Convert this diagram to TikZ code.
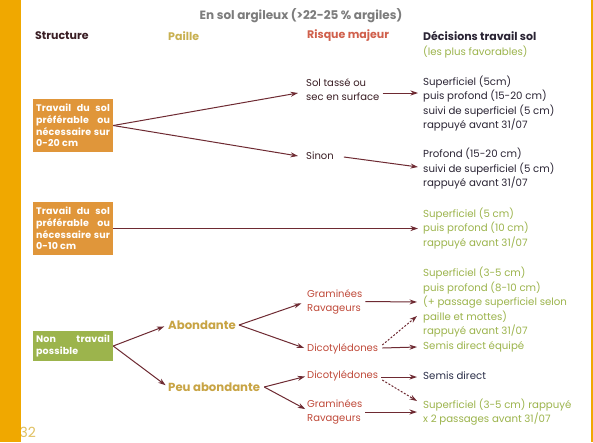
\documentclass[tikz,border=0pt]{standalone}
\usepackage{fontspec}
\setmainfont{Poppins}
\newfontfamily\boxface[LetterSpace=2]{Poppins}
\usetikzlibrary{arrows.meta}

\definecolor{barorange}{HTML}{F0A800}
\definecolor{boxorange}{HTML}{E0963A}
\definecolor{boxgreen}{HTML}{9CB44C}
\definecolor{arrowred}{HTML}{6E2A32}
\definecolor{titlegray}{HTML}{7C7C7C}
\definecolor{structdark}{HTML}{3A1E24}
\definecolor{paillegold}{HTML}{C8B050}
\definecolor{risquered}{HTML}{D0604C}
\definecolor{riskbrown}{HTML}{C04A3A}
\definecolor{decdark}{HTML}{2A2434}
\definecolor{favgreen}{HTML}{9CB44C}
\definecolor{abgold}{HTML}{C8A444}
\definecolor{pagegold}{HTML}{E0C060}
\definecolor{navydark}{HTML}{2A2E48}

\tikzset{
  conn/.style={draw=arrowred, line width=1pt, -{Stealth[length=7.5pt,width=5pt]}},
  dconn/.style={conn, dash pattern=on 2pt off 1.6pt},
  soilbox/.style={fill=#1, inner sep=0pt, minimum width=80pt, text=white,
    font=\boxface\fontsize{9.5}{11.8}\selectfont\bfseries, align=left},
  header/.style={inner sep=0pt, anchor=west, font=\fontsize{11}{13}\selectfont\bfseries},
  decision/.style={inner sep=0pt, anchor=west, align=left, font=\fontsize{10.2}{14.5}\selectfont},
  risk/.style={inner sep=0pt, anchor=west, align=left, font=\fontsize{10}{14}\selectfont},
  paille/.style={inner sep=0pt, anchor=west, text=abgold, font=\fontsize{11.7}{13}\selectfont\bfseries},
}
\newcommand\spreadline[1]{\makebox[74pt][s]{#1}}

\begin{document}
\begin{tikzpicture}[x=1pt, y=-1pt]
\useasboundingbox (0,0) rectangle (593,442);
\fill[white] (0,0) rectangle (593,442);

% page number, partly under the side bar
\node[inner sep=0pt, anchor=east, text=pagegold, font=\fontsize{14}{16}\selectfont] (page) at (36,432) {32};

% side bar and right rule
\fill[barorange] (0,0) rectangle (21,442);
\fill[barorange] (591,0) rectangle (592.5,442);

% title and column headers
\node[inner sep=0pt, text=titlegray, font=\fontsize{12}{14}\selectfont\bfseries] (title) at (301,16) {En sol argileux (>22-25 \% argiles)};
\node[header, text=structdark] (hstruct) at (35,36) {Structure};
\node[header, text=paillegold] (hpaille) at (168,36) {Paille};
\node[header, text=risquered] (hrisk) at (307,36) {Risque majeur};
\node[header, text=decdark] (hdec) at (423,36) {Décisions travail sol};
\node[decision, text=favgreen] (hfav) at (423,52) {(les plus favorables)};

% structure boxes
\node[soilbox=boxorange, minimum height=53pt] (s1) at (73,125.5)
  {\spreadline{Travail du sol}\\\spreadline{préférable ou}\\\spreadline{nécessaire sur}\\0-20 cm};
\node[soilbox=boxorange, minimum height=53pt] (s2) at (73,228.5)
  {\spreadline{Travail du sol}\\\spreadline{préférable ou}\\\spreadline{nécessaire sur}\\0-10 cm};
\node[soilbox=boxgreen, minimum height=30pt] (s3) at (73,346)
  {\spreadline{Non travail}\\possible};

% risks for the 0-20 cm case
\node[risk, text=structdark] (r1) at (306,89.5) {Sol tassé ou\\sec en surface};
\node[risk, text=structdark] (r2) at (306,156) {Sinon};

% decisions for the 0-20 cm and 0-10 cm cases
\node[decision, text=decdark] (d1) at (423,103.5)
  {Superficiel (5cm)\\puis profond (15-20 cm)\\suivi de superficiel (5 cm)\\rappuyé avant 31/07};
\node[decision, text=decdark] (d2) at (423,169)
  {Profond (15-20 cm)\\suivi de superficiel (5 cm)\\rappuyé avant 31/07};
\node[decision, text=favgreen] (d3) at (423,228.5)
  {Superficiel (5 cm)\\puis profond (10 cm)\\rappuyé avant 31/07};

% straw amount when no tillage is possible
\node[paille] (p1) at (168,325) {Abondante};
\node[paille] (p2) at (168,387) {Peu abondante};

\node[risk, text=riskbrown] (r3) at (307,301.5) {Graminées\\Ravageurs};
\node[risk, text=riskbrown] (r4) at (307,349) {Dicotylédones};
\node[risk, text=riskbrown] (r5) at (307,376) {Dicotylédones};
\node[risk, text=riskbrown] (r6) at (307,412) {Graminées\\Ravageurs};

\node[decision, text=favgreen] (d4) at (423,309.5)
  {Superficiel (3-5 cm)\\puis profond (8-10 cm)\\(+ passage superficiel selon\\paille et mottes)\\rappuyé avant 31/07\\Semis direct équipé};
\node[decision, text=navydark] (d5) at (423,376) {Semis direct};
\node[decision, text=favgreen] (d6) at (423,412)
  {Superficiel (3-5 cm) rappuyé\\x 2 passages avant 31/07};

% connectors
\draw[conn] (s1.east) -- ([xshift=-8pt,yshift=-3.5pt]r1.west);
\draw[conn] (s1.east) -- ([xshift=-8pt]r2.west);
\draw[conn] ([xshift=3pt,yshift=-3.5pt]r1.east) -- ([xshift=-5pt,yshift=10.5pt]d1.west);
\draw[conn] ([xshift=10pt,yshift=-1pt]r2.east) -- ([xshift=-5pt,yshift=2pt]d2.west);
\draw[conn] (s2.east) -- ([xshift=-5pt]d3.west);

\draw[conn, shorten >=4pt] (s3.east) -- (p1.west);
\draw[conn, shorten >=3pt] (s3.east) -- (p2.west);
\draw[conn, shorten >=6pt] ([xshift=3pt]p1.east) -- (r3.west);
\draw[conn, shorten >=3pt] ([xshift=3pt]p1.east) -- (r4.west);
\draw[conn, shorten >=2pt] ([xshift=4pt]p2.east) -- (r5.west);
\draw[conn, shorten >=2pt] ([xshift=4pt]p2.east) -- ([yshift=2pt]r6.west);

\draw[conn] ([xshift=3pt]r3.east) -- ([xshift=-6pt,yshift=7.5pt]d4.west);
\draw[conn] ([xshift=4pt,yshift=1pt]r4.east) -- ([xshift=-6pt,yshift=-37.5pt]d4.west);
\draw[dconn] ([xshift=4pt,yshift=4pt]r4.east) -- ([xshift=-6pt,yshift=-6.5pt]d4.west);
\draw[conn] ([xshift=3pt,yshift=-1pt]r5.east) -- ([xshift=-6pt,yshift=-1pt]d5.west);
\draw[dconn] ([xshift=4pt,yshift=-4pt]r5.east) -- ([xshift=-6pt,yshift=11pt]d6.west);
\draw[conn] ([xshift=3pt]r6.east) -- ([xshift=-6pt]d6.west);
\end{tikzpicture}
\end{document}
